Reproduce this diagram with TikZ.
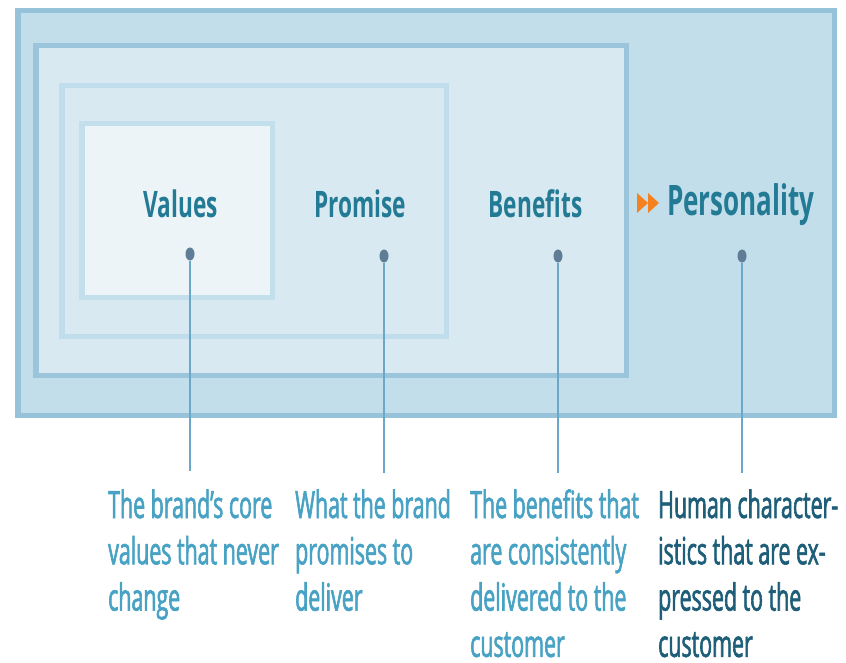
\documentclass[tikz,border=0pt]{standalone}
\usepackage{fontspec}
\usetikzlibrary{shapes.geometric}
\newfontfamily\headfont[FakeStretch=0.62]{Open Sans}
\newfontfamily\descfont[FakeStretch=0.57,FakeBold=1.6]{Open Sans}
\definecolor{ringA}{HTML}{C2DEEA}
\definecolor{ringAedge}{HTML}{96C3D9}
\definecolor{ringB}{HTML}{D9E9F1}
\definecolor{ringBedge}{HTML}{9AC5DA}
\definecolor{ringCedge}{HTML}{C0DDEB}
\definecolor{ringD}{HTML}{ECF4F8}
\definecolor{ringDedge}{HTML}{C3DFEC}
\definecolor{headcol}{HTML}{237A95}
\definecolor{desccol}{HTML}{47A2C4}
\definecolor{darkdesc}{HTML}{1E5E78}
\definecolor{dotcol}{HTML}{5F7D96}
\definecolor{leadcol}{HTML}{6AA7C8}
\definecolor{arrowcol}{HTML}{F58220}
\tikzset{
  ring/.style={line width=5.5pt},
  head/.style={inner sep=0pt, anchor=base, text=headcol, font=\headfont\bfseries\fontsize{36.5}{40}\selectfont},
  desc/.style={inner sep=0pt, anchor=base west, align=left, text=desccol, font=\descfont\fontsize{37.5}{46.3}\selectfont},
  dot/.style={ellipse, fill=dotcol, minimum width=9pt, minimum height=13pt, inner sep=0pt},
  lead/.style={draw=leadcol, line width=1.1pt}
}
\begin{document}
\begin{tikzpicture}[x=1pt,y=-1pt]
\useasboundingbox (0,0) rectangle (846,663);
\fill[white] (0,0) rectangle (846,663);
% nested frames, outermost first
\draw[ring, draw=ringAedge, fill=ringA] (17.75,10.75) rectangle (834.25,415.25);
\draw[ring, draw=ringBedge, fill=ringB] (35.75,45.75) rectangle (626.25,375.25);
\draw[ring, draw=ringCedge, fill=ringB] (61.75,85.75) rectangle (446.25,336.25);
\draw[ring, draw=ringDedge, fill=ringD] (81.75,123.75) rectangle (272.25,297.25);
% titles
\node[head] (tv) at (180.5,218) {Values};
\node[head] (tp) at (360,218) {Promise};
\node[head] (tb) at (535.5,218) {Benefits};
\node[head, anchor=base west, font=\headfont\bfseries\fontsize{42}{46}\selectfont] (tper) at (667,216) {Personality};
% double arrow marker
\fill[arrowcol] (637,193) -- (648,203) -- (637,213) -- cycle;
\fill[arrowcol] (648,193) -- (659,203) -- (648,213) -- cycle;
% pins and leader lines
\node[dot] (dv) at (190,254) {};
\node[dot] (dp) at (384,256) {};
\node[dot] (db) at (558,256) {};
\node[dot] (dper) at (742,256) {};
\coordinate (ev) at (190,471);
\coordinate (ep) at (384,473);
\coordinate (eb) at (558,473);
\coordinate (eper) at (742,473);
\draw[lead] (dv) -- (ev);
\draw[lead] (dp) -- (ep);
\draw[lead] (db) -- (eb);
\draw[lead] (dper) -- (eper);
% descriptions (node base = baseline of the last line)
\node[desc] (xv) at (108,610.6) {The brand’s core\\values that never\\change};
\node[desc] (xp) at (295,610.6) {What the brand\\promises to\\deliver};
\node[desc] (xb) at (470,656.9) {The benefits that\\are consistently\\delivered to the\\customer};
\node[desc, text=darkdesc] (xper) at (658,656.9) {Human character-\\istics that are ex-\\pressed to the\\customer};
\end{tikzpicture}
\end{document}
